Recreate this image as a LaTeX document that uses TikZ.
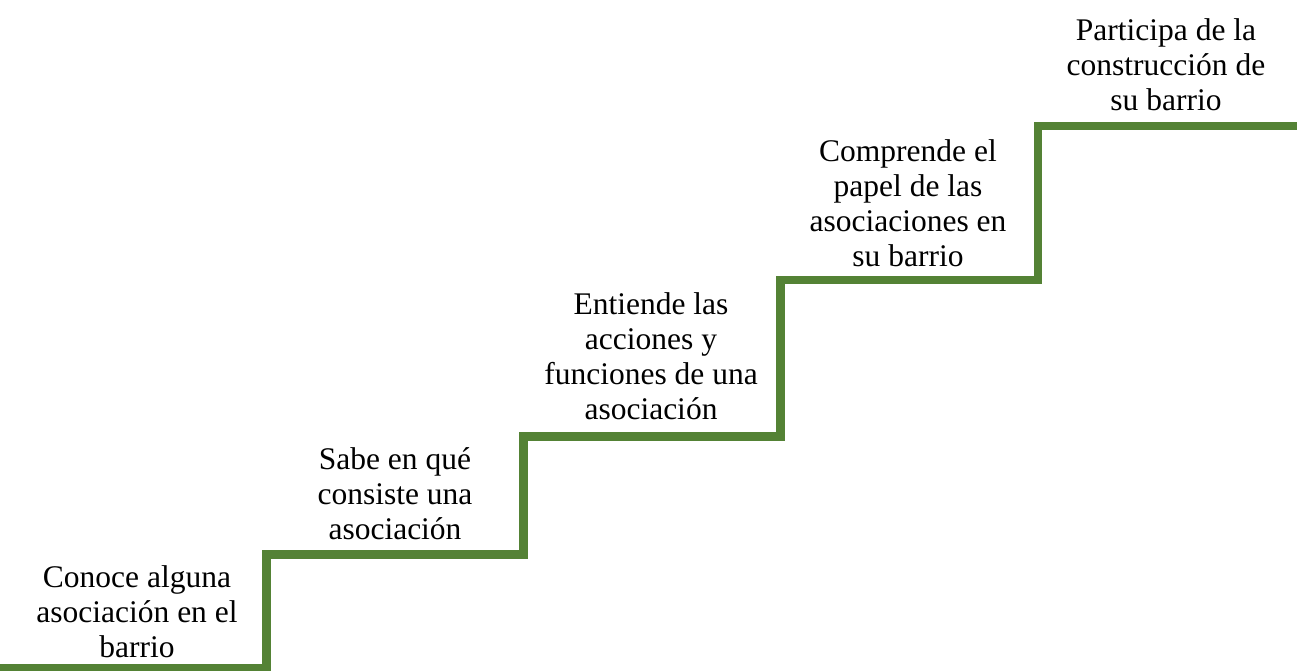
\documentclass[tikz,border=0pt]{standalone}
\usepackage{fontspec}
\setmainfont{Liberation Serif}
\definecolor{stairgreen}{HTML}{548235}
\begin{document}
\begin{tikzpicture}[x=1pt,y=-1pt,
  stair/.style={draw=stairgreen,line width=8.5pt,line join=miter},
  lbl/.style={align=center,inner sep=0pt,anchor=base,font=\fontsize{31.5}{35}\selectfont}]
\useasboundingbox (0,0) rectangle (1297,671);
\begin{scope}
\clip (0,0) rectangle (1297,671);
\coordinate (s0) at (0,668);
\coordinate (s1) at (266.5,668);
\coordinate (s2) at (266.5,554.5);
\coordinate (s3) at (523.5,554.5);
\coordinate (s4) at (523.5,436.5);
\coordinate (s5) at (780.5,436.5);
\coordinate (s6) at (780.5,280);
\coordinate (s7) at (1038,280);
\coordinate (s8) at (1038,126);
\coordinate (s9) at (1300,126);
\draw[stair] (s0) -- (s1) -- (s2) -- (s3) -- (s4) -- (s5) -- (s6) -- (s7) -- (s8) -- (s9);
\end{scope}
\node[lbl] (t1) at (137,657.5) {Conoce alguna\\asociación en el\\barrio};
\node[lbl] (t2) at (395,539) {Sabe en qué\\consiste una\\asociación};
\node[lbl] (t3) at (651,419) {Entiende las\\acciones y\\funciones de una\\asociación};
\node[lbl] (t4) at (908,266) {Comprende el\\papel de las\\asociaciones en\\su barrio};
\node[lbl] (t5) at (1166,111) {Participa de la\\construcción de\\su barrio};
\end{tikzpicture}
\end{document}
